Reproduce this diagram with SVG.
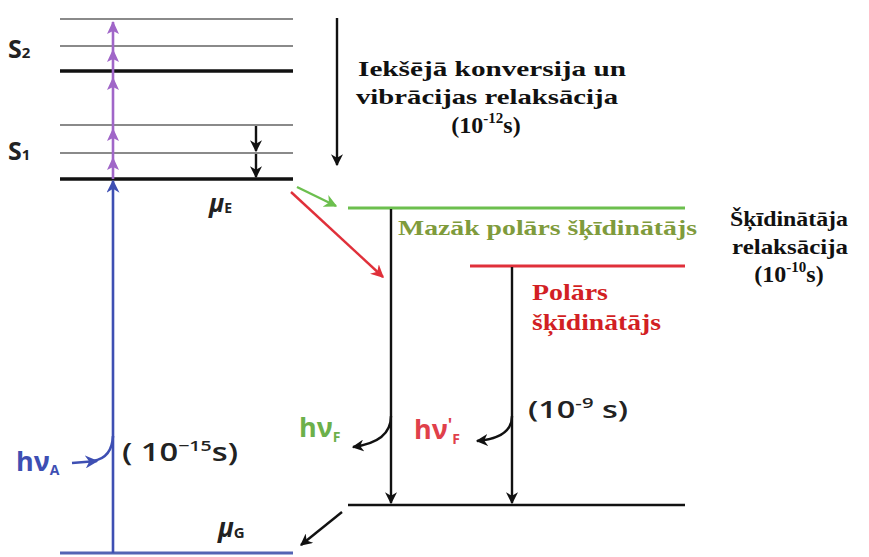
<svg xmlns="http://www.w3.org/2000/svg" width="869" height="557" viewBox="0 0 869 557">
<defs>
<style>
.lv{stroke:#8a8a8a;stroke-width:2.2}
.lk{stroke:#111;stroke-width:3.5}
.blk{stroke:#111;stroke-width:2.4;fill:none}
.ser{font-family:"Liberation Serif","Times New Roman",serif;font-weight:bold}
.san{font-family:"Open Sans","DejaVu Sans",sans-serif;font-weight:600}
.sb{font-family:"Open Sans","DejaVu Sans",sans-serif;font-weight:bold}
</style>
<marker id="ak" viewBox="0 0 10 10" refX="9" refY="5" markerUnits="userSpaceOnUse" markerWidth="12" markerHeight="12" orient="auto"><path d="M0,0 L10,5 L0,10 L3,5 z" fill="#111"/></marker>
<marker id="ab" viewBox="0 0 10 10" refX="9" refY="5" markerUnits="userSpaceOnUse" markerWidth="13" markerHeight="13" orient="auto"><path d="M0,0 L10,5 L0,10 L3,5 z" fill="#3e4fb3"/></marker>
<marker id="ag" viewBox="0 0 10 10" refX="9" refY="5" markerUnits="userSpaceOnUse" markerWidth="13" markerHeight="13" orient="auto"><path d="M0,0 L10,5 L0,10 L3,5 z" fill="#6cbf4e"/></marker>
<marker id="ar" viewBox="0 0 10 10" refX="9" refY="5" markerUnits="userSpaceOnUse" markerWidth="13" markerHeight="13" orient="auto"><path d="M0,0 L10,5 L0,10 L3,5 z" fill="#e0303a"/></marker>
<path id="ph" d="M0,0 L-6,13 L0,10 L6,13 Z" fill="#a066c8"/>
</defs>

<g id="levels-left">
<line class="lv" x1="60" y1="19" x2="293" y2="19"/>
<line class="lv" x1="60" y1="46" x2="293" y2="46"/>
<line class="lk" x1="60" y1="71" x2="293" y2="71"/>
<line class="lv" x1="60" y1="125" x2="293" y2="125"/>
<line class="lv" x1="60" y1="153" x2="293" y2="153"/>
<line class="lk" x1="60" y1="179" x2="293" y2="179"/>
<line x1="60" y1="553" x2="293" y2="553" stroke="#5464b4" stroke-width="3"/>
</g>

<g id="labels-S">
<text class="sb" x="8" y="58" font-size="25" fill="#222">S<tspan font-size="15">2</tspan></text>
<text class="sb" x="8" y="160" font-size="25" fill="#222">S<tspan font-size="15">1</tspan></text>
</g>

<g id="levels-right">
<line x1="348" y1="208" x2="685" y2="208" stroke="#6cbf4e" stroke-width="3"/>
<line x1="470" y1="266" x2="685" y2="266" stroke="#e0303a" stroke-width="3"/>
<line x1="348" y1="505" x2="685" y2="505" stroke="#111" stroke-width="2.6"/>
</g>

<g id="connectors">
<line x1="113" y1="179" x2="113" y2="22" stroke="#a066c8" stroke-width="2.6"/>
<use href="#ph" x="113" y="21"/>
<use href="#ph" x="113" y="49"/>
<use href="#ph" x="113" y="77"/>
<use href="#ph" x="113" y="128"/>
<use href="#ph" x="113" y="157"/>
<line x1="113" y1="553" x2="113" y2="181" stroke="#3e4fb3" stroke-width="2.6" marker-end="url(#ab)"/>
<line class="blk" x1="256" y1="126" x2="256" y2="151" marker-end="url(#ak)"/>
<line class="blk" x1="256" y1="154" x2="256" y2="177" marker-end="url(#ak)"/>
<line class="blk" x1="337" y1="18" x2="337" y2="165" marker-end="url(#ak)"/>
<line x1="297" y1="187" x2="336" y2="206" stroke="#6cbf4e" stroke-width="2.4" marker-end="url(#ag)"/>
<line x1="291" y1="192" x2="383" y2="277" stroke="#e0303a" stroke-width="2.4" marker-end="url(#ar)"/>
<line class="blk" x1="391" y1="209" x2="391" y2="503" marker-end="url(#ak)"/>
<line class="blk" x1="512" y1="267" x2="512" y2="503" marker-end="url(#ak)"/>
<path class="blk" d="M391,416 Q391,442 353,447" marker-end="url(#ak)"/>
<path class="blk" d="M512,416 Q512,438 477,441" marker-end="url(#ak)"/>
<line class="blk" x1="342" y1="512" x2="301" y2="545" marker-end="url(#ak)"/>
<path d="M72,463 L97,461" stroke="#3e4fb3" stroke-width="2.6" fill="none" marker-end="url(#ab)"/>
<path d="M93,461 Q112,458 113,436" stroke="#3e4fb3" stroke-width="2.6" fill="none"/>
</g>

<g id="text-ic">
<text class="ser" x="492" y="76" font-size="22" fill="#111" text-anchor="middle" textLength="268" lengthAdjust="spacingAndGlyphs">Iekšējā konversija un</text>
<text class="ser" x="487" y="104" font-size="22" fill="#111" text-anchor="middle" textLength="262" lengthAdjust="spacingAndGlyphs">vibrācijas relaksācija</text>
<text class="ser" x="486" y="133" font-size="24" fill="#111" text-anchor="middle">(10<tspan font-size="15" dy="-10">-12</tspan><tspan dy="10">s)</tspan></text>
</g>

<g id="text-mu">
<text class="sb" x="209" y="212" font-size="25" font-style="italic" fill="#222">μ<tspan font-size="14" font-style="normal" dy="1">E</tspan></text>
<text class="sb" x="218" y="537" font-size="26" font-style="italic" fill="#222">μ<tspan font-size="15" font-style="normal" dy="1">G</tspan></text>
</g>

<g id="text-solvent">
<text class="ser" x="398" y="235" font-size="21" fill="#7f9b3c" textLength="299" lengthAdjust="spacingAndGlyphs">Mazāk polārs šķīdinātājs</text>
<text class="ser" x="532" y="300" font-size="23" fill="#d21f24" textLength="76" lengthAdjust="spacingAndGlyphs">Polārs</text>
<text class="ser" x="532" y="330" font-size="23" fill="#d21f24" textLength="129" lengthAdjust="spacingAndGlyphs">šķīdinātājs</text>
</g>

<g id="text-relax">
<text class="ser" x="789" y="226" font-size="21" fill="#111" text-anchor="middle" textLength="118" lengthAdjust="spacingAndGlyphs">Šķīdinātāja</text>
<text class="ser" x="790" y="254" font-size="21" fill="#111" text-anchor="middle" textLength="116" lengthAdjust="spacingAndGlyphs">relaksācija</text>
<text class="ser" x="789" y="282" font-size="24" fill="#111" text-anchor="middle">(10<tspan font-size="15" dy="-10">-10</tspan><tspan dy="10">s)</tspan></text>
</g>

<g id="text-photons">
<text class="sb" x="16" y="471" font-size="27" fill="#3e4fb3">hν<tspan font-size="14" dy="4">A</tspan></text>
<text class="san" x="122" y="461" font-size="25" fill="#222" textLength="116" lengthAdjust="spacingAndGlyphs">( 10<tspan font-size="15" dy="-10">−15</tspan><tspan dy="10">s)</tspan></text>
<text class="sb" x="299" y="437" font-size="27" fill="#6cb04a">hν<tspan font-size="14" dy="5">F</tspan></text>
<text class="sb" x="414" y="439" font-size="27" fill="#e0404a">hν<tspan font-size="17" dy="-8">'</tspan><tspan font-size="14" dy="13">F</tspan></text>
<text class="san" x="528" y="418" font-size="24" fill="#222" textLength="100" lengthAdjust="spacingAndGlyphs">(10<tspan font-size="15" dy="-10">-9</tspan><tspan dy="10"> s)</tspan></text>
</g>
</svg>
